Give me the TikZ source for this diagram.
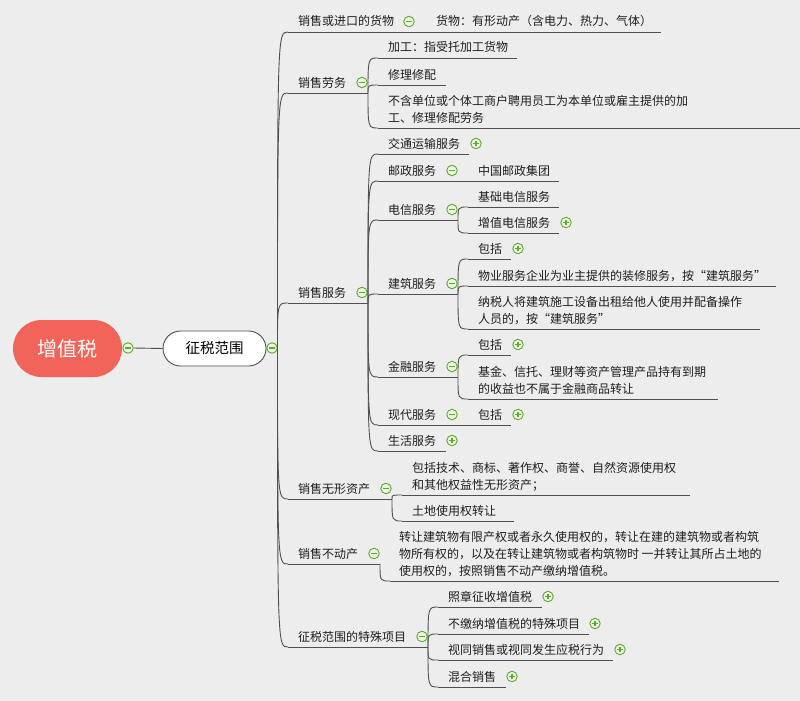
\documentclass[tikz,border=0pt]{standalone}
\usepackage{fontspec}
\newfontfamily\cjk{Noto Sans CJK SC}
\usetikzlibrary{shapes.misc}
\definecolor{bg}{RGB}{237,237,237}
\definecolor{rootred}{RGB}{242,100,90}
\definecolor{lnc}{RGB}{80,80,80}
\definecolor{icg}{RGB}{96,168,48}
\definecolor{icf}{RGB}{236,247,226}
\definecolor{txc}{RGB}{30,30,30}
\newcommand\br[7]{%
  \coordinate (#1-s) at (#2,#4);
  \coordinate (#1-e) at (#3,#4);
  \draw[conn] (#1-s) -- (#1-e);
  \node[t] (#1) at (#5,#6) {#7};}
\newcommand\cn[2]{\draw[conn] (#1) .. controls (#1 |- #2) .. (#2);}
\newcommand\icm[2]{\node[icon] (#1) at (#2) {};
  \draw[icbar] ([xshift=-2.8pt]#1.center) -- ([xshift=2.8pt]#1.center);}
\newcommand\icp[2]{\node[icon] (#1) at (#2) {};
  \draw[icbar] ([xshift=-2.8pt]#1.center) -- ([xshift=2.8pt]#1.center);
  \draw[icbar] ([yshift=-2.8pt]#1.center) -- ([yshift=2.8pt]#1.center);}
\begin{document}
\begin{tikzpicture}[x=1pt,y=-1pt,
  conn/.style={draw=lnc, line width=0.9pt},
  t/.style={anchor=base west, inner sep=0pt, outer sep=0pt, font=\cjk\fontsize{12}{17}\selectfont, text=txc, align=left},
  icon/.style={circle, draw=icg, fill=icf, minimum size=10.5pt, inner sep=0pt, line width=0.9pt},
  icbar/.style={draw=icg, line width=1.1pt}]
\fill[bg] (0,0) rectangle (800,701);
\useasboundingbox (0,0) rectangle (800,701);

% root and first level
\node[rounded rectangle, fill=rootred, minimum width=109pt, minimum height=57pt, inner sep=0pt, text=white, font=\cjk\fontsize{20}{24}\selectfont] (root) at (67.5,348.5) {增值税};
\icm{ic0}{128,348}
\node[rounded rectangle, draw=lnc, fill=white, line width=0.9pt, minimum width=103pt, minimum height=35pt, inner sep=0pt, font=\cjk\fontsize{14.5}{18}\selectfont, text=black] (zs) at (214.5,348.5) {征税范围};
\draw[conn] (ic0.east) -- (zs.west);
\icm{ic1}{272,348}
\coordinate (p0) at (277.5,348);

% level 1
\br{a}{288}{661}{32}{298}{26}{销售或进口的货物}
\icm{ia}{409,21.5}
\node[t] (a1) at (436,26) {货物：有形动产（含电力、热力、气体）};
\br{b}{288}{368}{93}{298}{87}{销售劳务}
\icm{ib}{362,82.5}
\br{c}{288}{368}{303}{298}{297}{销售服务}
\icm{ic}{362,292.5}
\br{d}{288}{392}{499}{298}{493}{销售无形资产}
\icm{id}{386,488.5}
\br{e}{288}{380}{564}{298}{558}{销售不动产}
\icm{ie}{374,553.5}
\br{f}{288}{428}{647}{298}{641}{征税范围的特殊项目}
\icm{if}{422,636.5}
\cn{p0}{a-s}\cn{p0}{b-s}\cn{p0}{c-s}\cn{p0}{d-s}\cn{p0}{e-s}\cn{p0}{f-s}

% 销售劳务
\br{b1}{378}{517}{58}{388}{52}{加工：指受托加工货物}
\br{b2}{378}{446}{85}{388}{79}{修理修配}
\br{b3}{378}{800}{128}{388}{122}{不含单位或个体工商户聘用员工为本单位或雇主提供的加\\工、修理修配劳务}
\cn{b-e}{b1-s}\cn{b-e}{b2-s}\cn{b-e}{b3-s}

% 销售服务
\br{c1}{378}{469}{154}{388}{148}{交通运输服务}
\icp{ic1p}{476,143.5}
\br{c2}{378}{559}{181}{388}{175}{邮政服务}
\icm{ic2m}{452,170.5}
\node[t] (c21) at (478,175) {中国邮政集团};
\br{c3}{378}{458}{220}{388}{214}{电信服务}
\icm{ic3m}{452,209.5}
\br{c31}{468}{559}{207}{478}{201}{基础电信服务}
\br{c32}{468}{559}{233}{478}{227}{增值电信服务}
\icp{ic32p}{566,222.5}
\cn{c3-e}{c31-s}\cn{c3-e}{c32-s}
\br{c4}{378}{458}{294}{388}{288}{建筑服务}
\icm{ic4m}{452,283.5}
\br{c41}{468}{511}{259}{478}{253}{包括}
\icp{ic41p}{518,248.5}
\br{c42}{468}{776}{286}{478}{280}{物业服务企业为业主提供的装修服务，按“建筑服务”}
\br{c43}{468}{760}{329}{478}{323}{纳税人将建筑施工设备出租给他人使用并配备操作\\人员的，按“建筑服务”}
\cn{c4-e}{c41-s}\cn{c4-e}{c42-s}\cn{c4-e}{c43-s}
\br{c5}{378}{458}{377}{388}{371}{金融服务}
\icm{ic5m}{452,366.5}
\br{c51}{468}{511}{355}{478}{349}{包括}
\icp{ic51p}{518,344.5}
\br{c52}{468}{718}{399}{478}{393}{基金、信托、理财等资产管理产品持有到期\\的收益也不属于金融商品转让}
\cn{c5-e}{c51-s}\cn{c5-e}{c52-s}
\br{c6}{378}{511}{425}{388}{419}{现代服务}
\icm{ic6m}{452,414.5}
\node[t] (c61) at (478,419) {包括};
\icp{ic61p}{518,414.5}
\br{c7}{378}{446}{451}{388}{445}{生活服务}
\icp{ic7p}{452,440.5}
\cn{c-e}{c1-s}\cn{c-e}{c2-s}\cn{c-e}{c3-s}\cn{c-e}{c4-s}\cn{c-e}{c5-s}\cn{c-e}{c6-s}\cn{c-e}{c7-s}

% 销售无形资产
\br{d1}{402}{690}{495}{412}{489}{包括技术、商标、著作权、商誉、自然资源使用权\\和其他权益性无形资产；}
\br{d2}{402}{514}{521}{412}{515}{土地使用权转让}
\cn{d-e}{d1-s}\cn{d-e}{d2-s}

% 销售不动产
\br{e1}{390}{779}{581}{399}{575}{转让建筑物有限产权或者永久使用权的，转让在建的建筑物或者构筑\\物所有权的，以及在转让建筑物或者构筑物时 一并转让其所占土地的\\使用权的，按照销售不动产缴纳增值税。}
\cn{e-e}{e1-s}

% 征税范围的特殊项目
\br{f1}{438}{542}{607}{448}{601}{照章征收增值税}
\icp{if1p}{548,596.5}
\br{f2}{438}{589}{634}{448}{628}{不缴纳增值税的特殊项目}
\icp{if2p}{595,623.5}
\br{f3}{438}{613}{660}{448}{654}{视同销售或视同发生应税行为}
\icp{if3p}{620,649.5}
\br{f4}{438}{506}{687}{448}{681}{混合销售}
\icp{if4p}{512,676.5}
\cn{f-e}{f1-s}\cn{f-e}{f2-s}\cn{f-e}{f3-s}\cn{f-e}{f4-s}
\end{tikzpicture}
\end{document}
